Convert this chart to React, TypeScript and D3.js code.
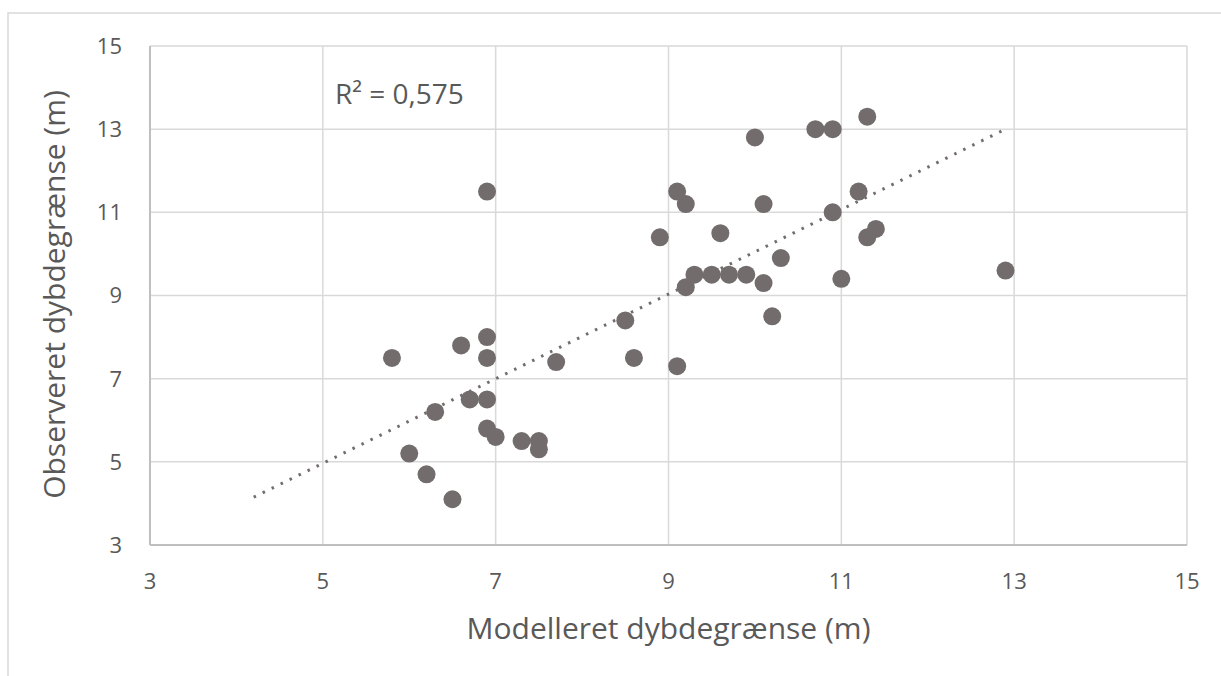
import React from 'react';
import * as d3 from 'd3';

// Modelleret (x) vs observeret (y) dybdegrænse
const modelled = [
  5.8, 6.0, 6.2, 6.3, 6.5, 6.6, 6.7, 6.9, 6.9, 6.9, 6.9, 6.9, 7.0, 7.3, 7.5,
  7.5, 7.7, 8.5, 8.6, 8.9, 9.1, 9.1, 9.2, 9.2, 9.3, 9.5, 9.6, 9.7, 9.9, 10.0,
  10.1, 10.1, 10.2, 10.3, 10.7, 10.9, 10.9, 11.0, 11.2, 11.3, 11.3, 11.4, 12.9,
];
const observed = [
  7.5, 5.2, 4.7, 6.2, 4.1, 7.8, 6.5, 11.5, 8.0, 7.5, 6.5, 5.8, 5.6, 5.5, 5.5,
  5.3, 7.4, 8.4, 7.5, 10.4, 7.3, 11.5, 11.2, 9.2, 9.5, 9.5, 10.5, 9.5, 9.5, 12.8,
  9.3, 11.2, 8.5, 9.9, 13.0, 13.0, 11.0, 9.4, 11.5, 13.3, 10.4, 10.6, 9.6,
];

// trendline end points
const trendX = [4.2, 12.9];
const trendY = [4.15, 13.0];

const xTicks = [3, 5, 7, 9, 11, 13, 15];
const yTicks = [3, 5, 7, 9, 11, 13, 15];

const rSquared = 'R² = 0,575';
const xTitle = 'Modelleret dybdegrænse (m)';
const yTitle = 'Observeret dybdegrænse (m)';

const W = 1221;
const H = 676;
const FONT = '"Open Sans", sans-serif';
const TEXT = '#595959';
const DOT = '#726d6c';

export default function App() {
  const x = d3.scaleLinear().domain([3, 15]).range([150, 1187]);
  const y = d3.scaleLinear().domain([3, 15]).range([545, 46]);

  const points = modelled.map((m, i) => ({ m, o: observed[i] }));
  const trend = d3.line<number>()
    .x(d => x(trendX[d]))
    .y(d => y(trendY[d]))([0, 1]);

  return (
    <svg
      width={W}
      height={H}
      style={{ position: 'absolute', left: 0, top: 0, display: 'block', background: '#fff' }}
      fontFamily={FONT}
    >
      {/* chart frame */}
      <rect x={8} y={13} width={W + 20} height={H + 20} fill="none" stroke="#d9d9d9" strokeWidth={1.5} />

      {/* gridlines */}
      {yTicks.map(t => (
        <line key={'gy' + t} x1={x(3)} x2={x(15)} y1={y(t)} y2={y(t)} stroke="#d9d9d9" strokeWidth={1.5} />
      ))}
      {xTicks.map(t => (
        <line key={'gx' + t} x1={x(t)} x2={x(t)} y1={y(3)} y2={y(15)} stroke="#d9d9d9" strokeWidth={1.5} />
      ))}

      {/* axis lines */}
      <line x1={x(3)} x2={x(3)} y1={y(3)} y2={y(15)} stroke="#bfbfbf" strokeWidth={2} />
      <line x1={x(3)} x2={x(15)} y1={y(3)} y2={y(3)} stroke="#bfbfbf" strokeWidth={2} />

      {/* tick labels */}
      {yTicks.map(t => (
        <text key={'ly' + t} x={122} y={y(t)} dy="0.36em" textAnchor="end" fontSize={22} fill={TEXT}>
          {t}
        </text>
      ))}
      {xTicks.map(t => (
        <text key={'lx' + t} x={x(t)} y={589} textAnchor="middle" fontSize={22} fill={TEXT}>
          {t}
        </text>
      ))}

      {/* trendline */}
      <path d={trend || ''} fill="none" stroke={DOT} strokeWidth={3} strokeDasharray="2.5 7.5" />

      {/* points */}
      {points.map((p, i) => (
        <circle key={i} cx={x(p.m)} cy={y(p.o)} r={9} fill={DOT} />
      ))}

      {/* R² label */}
      <text x={335} y={104} fontSize={28} fill={TEXT}>
        {rSquared}
      </text>

      {/* axis titles */}
      <text x={(x(3) + x(15)) / 2} y={639} textAnchor="middle" fontSize={30} fill={TEXT}>
        {xTitle}
      </text>
      <text
        transform={`translate(65,${(y(3) + y(15)) / 2 - 1}) rotate(-90)`}
        textAnchor="middle"
        fontSize={30}
        fill={TEXT}
      >
        {yTitle}
      </text>
    </svg>
  );
}
